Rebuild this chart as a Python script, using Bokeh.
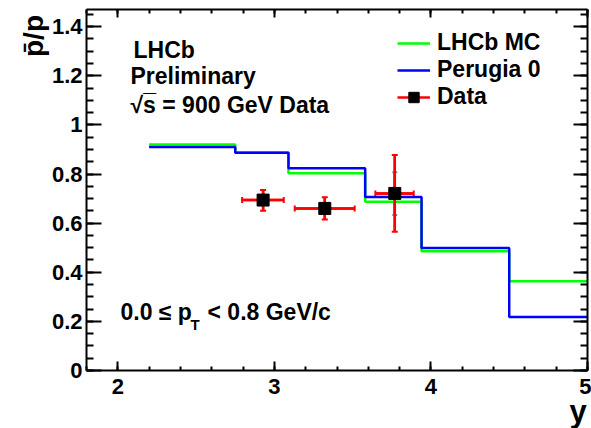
import math
from bokeh.plotting import figure
from bokeh.models import (Label, Legend, LegendItem, LinearAxis, SingleIntervalTicker,
                          CustomJSTickFormatter, Whisker, TeeHead, ColumnDataSource)
from bokeh.embed import file_html
from bokeh.resources import INLINE

# ---- data ----
bin_edges = [2.2, 2.75, 3.09, 3.58, 3.94, 4.5, 5.0]
lhcb_mc = [0.920, 0.888, 0.803, 0.687, 0.486, 0.363]
perugia0 = [0.910, 0.887, 0.824, 0.707, 0.499, 0.218]

data_y = [2.928, 3.322, 3.769]
data_ratio = [0.694, 0.660, 0.721]
data_y_lo = [2.794, 3.130, 3.645]
data_y_hi = [3.060, 3.513, 3.890]
data_ratio_lo = [0.650, 0.615, 0.565]
data_ratio_hi = [0.735, 0.705, 0.878]
stat_y = [3.769]
stat_lo = [0.633]
stat_hi = [0.807]

FONT = "Liberation Sans"

p = figure(frame_width=501, frame_height=361, x_range=(1.8, 5.0), y_range=(0, 1.47),
           output_backend="svg", toolbar_location=None,
           min_border_left=86, min_border_right=4, min_border_top=9, min_border_bottom=58)
p.grid.visible = False
p.outline_line_color = None
p.background_fill_color = "white"
p.border_fill_color = "white"

xt = SingleIntervalTicker(interval=1, num_minor_ticks=5)
yt = SingleIntervalTicker(interval=0.2, num_minor_ticks=4)
yfmt = CustomJSTickFormatter(code="return tick.toFixed(1).replace(/\\.0$/, '');")
empty = CustomJSTickFormatter(code="return '';")

def style_axis(ax, ticker, tin, mtin, labels=True):
    ax.ticker = ticker
    ax.axis_line_width = 2
    ax.axis_line_color = "black"
    ax.major_tick_in = tin
    ax.major_tick_out = 0
    ax.minor_tick_in = mtin
    ax.minor_tick_out = 0
    ax.major_tick_line_width = 2
    ax.minor_tick_line_width = 2
    ax.major_label_text_font = FONT
    ax.major_label_text_font_style = "bold"
    ax.major_label_text_font_size = "22px"
    ax.major_label_text_color = "black"
    ax.axis_label_text_font = FONT
    ax.axis_label_text_font_style = "bold"
    ax.axis_label_text_color = "black"
    if not labels:
        ax.formatter = empty
        ax.major_label_standoff = 0

# axis titles are centred on the axis; leading blank space pushes them to the far end
EM = "\u2003"
NB = "\u00a0"
xa = p.xaxis[0]
style_axis(xa, xt, 9, 4)
xa.major_label_standoff = 8
xa.axis_label = EM * 15 + NB * 2 + "y"
xa.axis_label_text_font_size = "31px"
xa.axis_label_standoff = -3

ya = p.yaxis[0]
style_axis(ya, yt, 15, 7)
ya.formatter = yfmt
ya.major_label_standoff = 4
ya.axis_label = EM * 11 + "p\u0304/p"
ya.axis_label_text_font_size = "28px"
ya.axis_label_standoff = 0

ra = LinearAxis()
style_axis(ra, SingleIntervalTicker(interval=0.2, num_minor_ticks=4), 14, 7, labels=False)
p.add_layout(ra, "right")
ta = LinearAxis()
style_axis(ta, SingleIntervalTicker(interval=1, num_minor_ticks=5), 8, 4, labels=False)
p.add_layout(ta, "above")

# ---- histograms ----
r_mc = p.step(x=bin_edges, y=lhcb_mc + [lhcb_mc[-1]], mode="after",
              line_color="#00ff00", line_width=2.5)
r_pg = p.step(x=bin_edges, y=perugia0 + [perugia0[-1]], mode="after",
              line_color="#0000ff", line_width=2.5)

# ---- data points ----
src = ColumnDataSource(dict(y=data_y, r=data_ratio, ylo=data_y_lo, yhi=data_y_hi,
                            rlo=data_ratio_lo, rhi=data_ratio_hi))
r_h = p.segment(x0="ylo", y0="r", x1="yhi", y1="r", source=src, line_color="#ff0000", line_width=2.5)
r_v = p.segment(x0="y", y0="rlo", x1="y", y1="rhi", source=src, line_color="#ff0000", line_width=2.5)
wv = Whisker(base="y", lower="rlo", upper="rhi", source=src, dimension="height",
             line_color="#ff0000", line_width=2.5,
             lower_head=TeeHead(size=6, line_color="#ff0000", line_width=2),
             upper_head=TeeHead(size=6, line_color="#ff0000", line_width=2))
wh = Whisker(base="r", lower="ylo", upper="yhi", source=src, dimension="width",
             line_color="#ff0000", line_width=2.5,
             lower_head=TeeHead(size=6, line_color="#ff0000", line_width=2),
             upper_head=TeeHead(size=6, line_color="#ff0000", line_width=2))
p.add_layout(wv)
p.add_layout(wh)
ssrc = ColumnDataSource(dict(y=stat_y, lo=stat_lo, hi=stat_hi))
ws = Whisker(base="y", lower="lo", upper="hi", source=ssrc, dimension="height",
             line_color="#ff0000", line_width=2.5,
             lower_head=TeeHead(size=5, line_color="#888888", line_width=2),
             upper_head=TeeHead(size=5, line_color="#888888", line_width=2))
p.add_layout(ws)
r_sq = p.scatter(x="y", y="r", source=src, marker="square", size=12,
                 fill_color="black", line_color="black")

# ---- legend ----
legend = Legend(items=[LegendItem(label="LHCb MC", renderers=[r_mc]),
                       LegendItem(label="Perugia 0", renderers=[r_pg]),
                       LegendItem(label="Data", renderers=[r_h, r_sq])],
                location=(311, 260), orientation="vertical",
                border_line_alpha=0, background_fill_alpha=0,
                padding=0, margin=0, spacing=0,
                glyph_width=33, glyph_height=26, label_height=26, label_standoff=7,
                label_text_font=FONT, label_text_font_style="bold",
                label_text_font_size="23px", label_text_color="black")
p.add_layout(legend)

# ---- texts ----
def txt(x, y, t, size="23px", **kw):
    lab = Label(x=x, y=y, text=t, text_font=FONT, text_font_style="bold",
                text_font_size=size, text_color="black", text_baseline="alphabetic", **kw)
    p.add_layout(lab)

txt(2.100, 1.306, "LHCb")
txt(2.081, 1.200, "Preliminary")
txt(2.081, 1.082, "\u221as\u0305 = 900 GeV Data")
txt(2.017, 0.2367, "0.0 \u2264 p")
txt(2.464, 0.1878, "T", size="15px")
txt(2.573, 0.2367, "< 0.8 GeV/c")

open("out.html", "w").write(file_html(p, INLINE))
